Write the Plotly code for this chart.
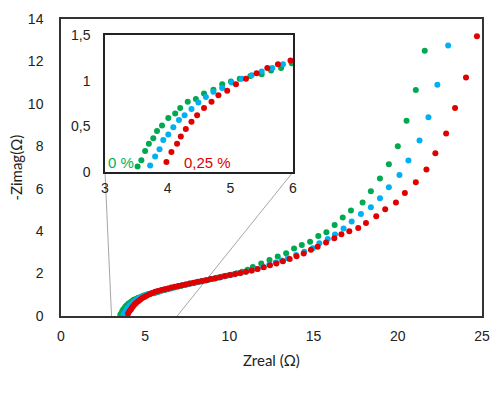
import plotly.graph_objects as go

# ---------------- data ----------------
green_x = [3.52, 3.58, 3.64, 3.70, 3.77, 3.83, 3.91, 4.01, 4.12, 4.20, 4.32, 4.45, 4.58, 4.73, 4.87,
           5.01, 5.15, 5.32, 5.50, 5.65, 5.81, 5.98, 6.16, 6.34, 6.53, 6.72, 6.92, 7.12, 7.33, 7.55,
           7.77, 8.00, 8.24, 8.48, 8.73, 8.99, 9.26, 9.54, 9.83, 10.13, 10.44, 10.76, 11.08, 11.39,
           11.89, 12.38, 12.87, 13.37, 13.84, 14.30, 14.79, 15.28, 15.76, 16.25, 16.73, 17.22, 17.91,
           18.40, 18.94, 19.47, 20.00, 20.52, 21.07, 21.60]
green_y = [0.06, 0.13, 0.23, 0.31, 0.37, 0.45, 0.51, 0.59, 0.64, 0.70, 0.77, 0.80, 0.86, 0.90, 0.96,
           0.99, 1.02, 1.05, 1.07, 1.11, 1.14, 1.19, 1.22, 1.26, 1.30, 1.34, 1.38, 1.42, 1.46, 1.50,
           1.54, 1.58, 1.62, 1.66, 1.70, 1.75, 1.80, 1.85, 1.90, 1.95, 2.01, 2.08, 2.18, 2.31,
           2.48, 2.64, 2.80, 2.96, 3.18, 3.35, 3.50, 3.77, 3.95, 4.29, 4.64, 4.97, 5.35,
           5.88, 6.48, 7.15, 8.00, 9.20, 10.65, 12.50]

blue_x = [3.72, 3.80, 3.87, 3.93, 4.01, 4.09, 4.18, 4.27, 4.38, 4.49, 4.61, 4.73, 4.87, 5.02, 5.18,
          5.34, 5.50, 5.67, 5.84, 6.02, 6.20, 6.39, 6.58, 6.78, 6.98, 7.19, 7.41, 7.63, 7.86, 8.10,
          8.34, 8.59, 8.85, 9.12, 9.40, 9.69, 9.99, 10.30, 10.62, 10.95, 11.29, 11.64, 12.00, 12.37,
          12.75, 13.10, 13.47, 13.96, 14.45, 14.95, 15.34, 15.84, 16.27, 16.78, 17.26, 17.81, 18.40,
          18.94, 19.47, 20.10, 20.63, 21.29, 21.82, 22.35, 22.99]
blue_y = [0.07, 0.17, 0.25, 0.35, 0.41, 0.49, 0.57, 0.62, 0.69, 0.76, 0.82, 0.88, 0.92, 0.98, 1.02,
          1.06, 1.10, 1.14, 1.18, 1.22, 1.25, 1.29, 1.33, 1.37, 1.41, 1.45, 1.49, 1.52, 1.56, 1.60,
          1.64, 1.68, 1.73, 1.77, 1.82, 1.87, 1.92, 1.97, 2.02, 2.08, 2.14, 2.22, 2.31, 2.41,
          2.52, 2.62, 2.72, 2.88, 3.03, 3.19, 3.43, 3.63, 3.84, 4.13, 4.45, 4.81, 5.13,
          5.55, 6.07, 6.65, 7.33, 8.27, 9.37, 10.90, 12.75]

red_x = [3.98, 4.06, 4.15, 4.21, 4.29, 4.38, 4.47, 4.58, 4.70, 4.81, 4.95, 5.09, 5.25, 5.42, 5.59,
         5.76, 5.96, 6.15, 6.35, 6.55, 6.76, 6.97, 7.19, 7.41, 7.64, 7.88, 8.12, 8.37, 8.63, 8.89,
         9.16, 9.44, 9.73, 10.03, 10.34, 10.66, 10.99, 11.33, 11.68, 12.04, 12.41, 12.79, 13.18,
         13.58, 13.99, 14.41, 14.84, 15.24, 15.74, 16.23, 16.65, 17.12, 17.65, 18.11, 18.72, 19.25,
         19.89, 20.42, 21.07, 21.70, 22.23, 22.87, 23.40, 24.05, 24.70]
red_y = [0.11, 0.22, 0.31, 0.39, 0.47, 0.55, 0.62, 0.70, 0.77, 0.84, 0.89, 0.96, 1.02, 1.08, 1.14,
         1.18, 1.22, 1.26, 1.30, 1.34, 1.38, 1.42, 1.45, 1.49, 1.53, 1.57, 1.61, 1.65, 1.69, 1.74,
         1.78, 1.83, 1.88, 1.93, 1.98, 2.03, 2.09, 2.15, 2.22, 2.30, 2.39, 2.48, 2.58,
         2.69, 2.82, 2.95, 3.12, 3.27, 3.46, 3.66, 3.85, 4.00, 4.15, 4.38, 4.70, 5.03,
         5.35, 5.80, 6.30, 6.90, 7.67, 8.60, 9.80, 11.24, 13.19]

main_x_ticks = [0, 5, 10, 15, 20, 25]
main_y_ticks = [0, 2, 4, 6, 8, 10, 12, 14]
inset_x_ticks = [3, 4, 5, 6]
inset_y_ticks = [0, 0.5, 1, 1.5]
inset_y_labels = ["0", "0,5", "1", "1,5"]

series = [
    ("0 %", green_x, green_y, "#00A84F"),
    ("0,1 %", blue_x, blue_y, "#00B0F0"),
    ("0,25 %", red_x, red_y, "#E00000"),
]

# ---------------- figure ----------------
fig = go.Figure()
for name, xs, ys, col in series:
    fig.add_trace(go.Scatter(x=xs, y=ys, mode="markers", name=name,
                             marker=dict(color=col, size=6, line=dict(width=0)),
                             xaxis="x", yaxis="y", showlegend=False))
for name, xs, ys, col in series:
    fig.add_trace(go.Scatter(x=xs, y=ys, mode="markers", name=name,
                             marker=dict(color=col, size=6, line=dict(width=0)),
                             xaxis="x2", yaxis="y2", showlegend=False, cliponaxis=True))

tickfont = dict(family="Liberation Sans, Arial, sans-serif", size=14, color="#222")
axcol = "#333"

# plot area in pixels: left 61, right 482, top 19, bottom 316
L, R, T, B = 61, 482, 19, 316
W, H = 500, 393
pw, ph = R - L, B - T

def px_to_paper(px, py):
    return (px - L) / pw, (B - py) / ph

ix0, iy0 = px_to_paper(105, 172)
ix1, iy1 = px_to_paper(293, 35)

fig.update_layout(
    width=W, height=H,
    margin=dict(l=L, r=W - R, t=T, b=H - B, autoexpand=False),
    paper_bgcolor="white", plot_bgcolor="white",
    separators=", ",
    xaxis=dict(domain=[0, 1], range=[0, 25], tickvals=main_x_ticks, showgrid=False,
               zeroline=False, showline=True, linecolor=axcol, linewidth=1.5, mirror=True,
               ticks="", tickfont=tickfont, ticklabelstandoff=6, automargin=False),
    yaxis=dict(domain=[0, 1], range=[0, 14], tickvals=main_y_ticks, showgrid=False,
               zeroline=False, showline=True, linecolor=axcol, linewidth=1.5, mirror=True,
               ticks="", tickfont=tickfont, ticklabelstandoff=13, automargin=False),
    xaxis2=dict(domain=[ix0, ix1], anchor="y2", range=[3, 6], tickvals=inset_x_ticks,
                showgrid=False, zeroline=False, showline=True, linecolor="#222", linewidth=1.5,
                mirror=True, ticks="", tickfont=tickfont, ticklabelstandoff=2, automargin=False),
    yaxis2=dict(domain=[iy0, iy1], anchor="x2", range=[0, 1.5], tickvals=inset_y_ticks,
                ticktext=inset_y_labels, showgrid=False, zeroline=False, showline=True,
                linecolor="#222", linewidth=1.5, mirror=True, ticks="", tickfont=tickfont,
                ticklabelstandoff=10, automargin=False),
)

# connector lines from inset corners to main axis
fig.add_shape(type="line", xref="paper", yref="paper", x0=ix0, y0=iy0, x1=3 / 25, y1=0,
              line=dict(color="#A6A6A6", width=1), layer="below")
fig.add_shape(type="line", xref="paper", yref="paper", x0=ix1, y0=iy0, x1=6.9 / 25, y1=0,
              line=dict(color="#A6A6A6", width=1), layer="below")

# axis titles
tx, ty = px_to_paper(270, 360)
fig.add_annotation(text="Zreal (Ω)", xref="paper", yref="paper", x=0.5, y=ty,
                   showarrow=False, xanchor="center", yanchor="middle",
                   font=dict(family="Lato, sans-serif", size=15, color="#222"))
yx, yy = px_to_paper(15, 167)
fig.add_annotation(text="-Zimag(Ω)", xref="paper", yref="paper", x=yx, y=0.5,
                   showarrow=False, xanchor="center", yanchor="middle", textangle=-90,
                   font=dict(family="Lato, sans-serif", size=15, color="#222"))

# inset labels
fig.add_annotation(text="0 %", xref="x2", yref="y2", x=3.02, y=0.1, xanchor="left",
                   yanchor="middle", showarrow=False,
                   font=dict(family="Liberation Sans, Arial, sans-serif", size=15, color="#00B050"))
fig.add_annotation(text="0,25 %", xref="x2", yref="y2", x=4.23, y=0.1, xanchor="left",
                   yanchor="middle", showarrow=False,
                   font=dict(family="Liberation Sans, Arial, sans-serif", size=15, color="#E00000"))

fig.write_html("out.html", config={"displayModeBar": False},
               post_script="document.body.style.margin='0';document.body.style.overflow='hidden';")
